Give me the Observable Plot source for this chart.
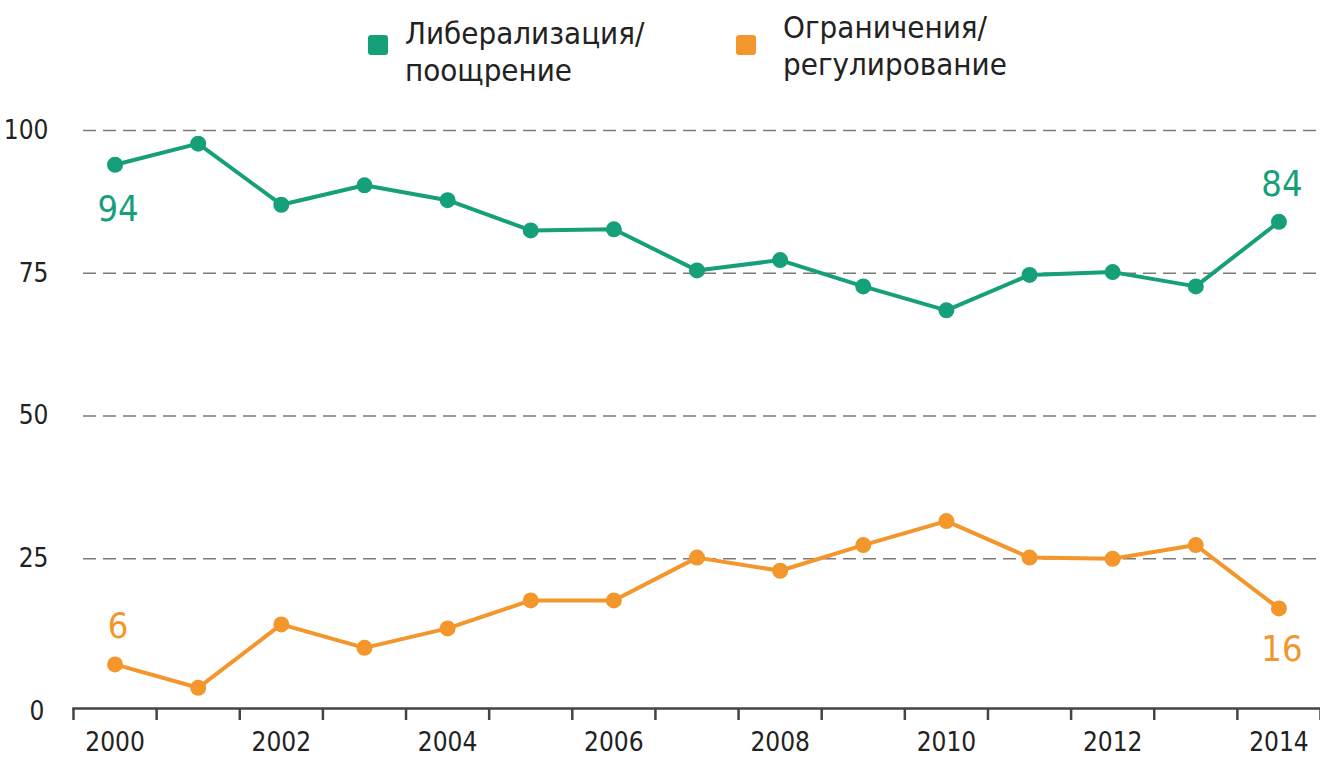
<!DOCTYPE html>
<html>
<head>
<meta charset="utf-8">
<script src="https://cdn.jsdelivr.net/npm/d3@7"></script>
<script src="https://cdn.jsdelivr.net/npm/@observablehq/plot@0.6"></script>
<style>
  html, body { margin: 0; padding: 0; background: #fff; }
  body { width: 1320px; height: 757px; overflow: hidden; position: relative;
         font-family: "Liberation Sans Narrow", "DejaVu Sans Condensed", sans-serif; }
  #legend { position: relative; height: 100px; }
  .sw { position: absolute; width: 20px; height: 20px; border-radius: 3px; }
  .lt { position: absolute; font-size: 31px; line-height: 37px; color: #222; }
</style>
</head>
<body>
<div id="legend"></div>
<div id="chart"></div>
<script>
const years = [2000, 2001, 2002, 2003, 2004, 2005, 2006, 2007, 2008, 2009, 2010, 2011, 2012, 2013, 2014];
const liberal = [94, 97.7, 87, 90.4, 87.8, 82.5, 82.7, 75.5, 77.3, 72.7, 68.5, 74.7, 75.2, 72.7, 84];
const restrict = [6.5, 2.4, 13.5, 9.4, 12.8, 17.7, 17.7, 25.2, 22.9, 27.4, 31.6, 25.2, 25, 27.4, 16.3];
const seriesNames = ["Либерализация/\nпоощрение", "Ограничения/\nрегулирование"];
const seriesColors = ["#16a07a", "#f3962b"];
const yTicks = [25, 50, 75, 100];
const xLabelYears = [2000, 2002, 2004, 2006, 2008, 2010, 2012, 2014];
const endLabels = [
  {series: 0, year: 2000, text: "94", dy: 45},
  {series: 0, year: 2014, text: "84", dy: -37},
  {series: 1, year: 2000, text: "6", dy: -38},
  {series: 1, year: 2014, text: "16", dy: 41}
];

// legend
const legend = document.getElementById("legend");
const legendPos = [{sx: 368, tx: 405, ty: 15}, {sx: 736, tx: 783, ty: 9}];
seriesNames.forEach((name, i) => {
  const sw = document.createElement("div");
  sw.className = "sw";
  sw.style.left = legendPos[i].sx + "px";
  sw.style.top = "35px";
  sw.style.background = seriesColors[i];
  legend.appendChild(sw);
  const t = document.createElement("div");
  t.className = "lt";
  t.style.left = legendPos[i].tx + "px";
  t.style.top = legendPos[i].ty + "px";
  t.innerHTML = name.split("\n").join("<br>");
  legend.appendChild(t);
});

const data = [];
years.forEach((y, i) => {
  data.push({year: y, value: liberal[i], s: 0});
  data.push({year: y, value: restrict[i], s: 1});
});
const halfTicks = d3.range(years[0] - 0.5, years[years.length - 1] + 1, 1);

const font = "Liberation Sans Narrow, DejaVu Sans Condensed, sans-serif";
const chart = Plot.plot({
  width: 1320,
  height: 657,
  marginTop: 30,
  marginBottom: 49,
  marginLeft: 73,
  marginRight: 0,
  insetBottom: 7,
  style: {fontFamily: font, background: "transparent"},
  x: {domain: [years[0] - 0.5, years[years.length - 1] + 0.5]},
  y: {domain: [0, 100]},
  marks: [
    Plot.gridY(yTicks, {stroke: "#7a7a7a", strokeOpacity: 1, strokeWidth: 1.6, strokeDasharray: "13,7", insetLeft: 10}),
    Plot.axisY(yTicks, {tickSize: 0, tickPadding: 0, dx: -25, fontSize: 26, fill: "#222", label: null, textAnchor: "end"}),
    Plot.axisY([0], {tickSize: 0, tickPadding: 0, dx: -29, dy: 10, fontSize: 26, fill: "#222", label: null, textAnchor: "end"}),
    Plot.frame({anchor: "bottom", stroke: "#444", strokeWidth: 2.5}),
    Plot.axisX(halfTicks, {tickSize: 12, stroke: "#444", strokeWidth: 2.5, text: null, label: null}),
    Plot.axisX(xLabelYears, {tickSize: 0, tickPadding: 24, fontSize: 26, fill: "#222", tickFormat: d => String(d), label: null}),
    Plot.line(data, {x: "year", y: "value", z: "s", stroke: d => seriesColors[d.s], strokeWidth: 4}),
    Plot.dot(data, {x: "year", y: "value", r: 8, fill: d => seriesColors[d.s], stroke: "none"}),
    ...endLabels.map(l => Plot.text([l], {
      x: "year",
      y: d => (d.series === 0 ? liberal : restrict)[years.indexOf(d.year)],
      text: "text", dx: 3, dy: l.dy, fontSize: 36, fill: seriesColors[l.series]
    }))
  ]
});
document.getElementById("chart").appendChild(chart);
</script>
</body>
</html>
